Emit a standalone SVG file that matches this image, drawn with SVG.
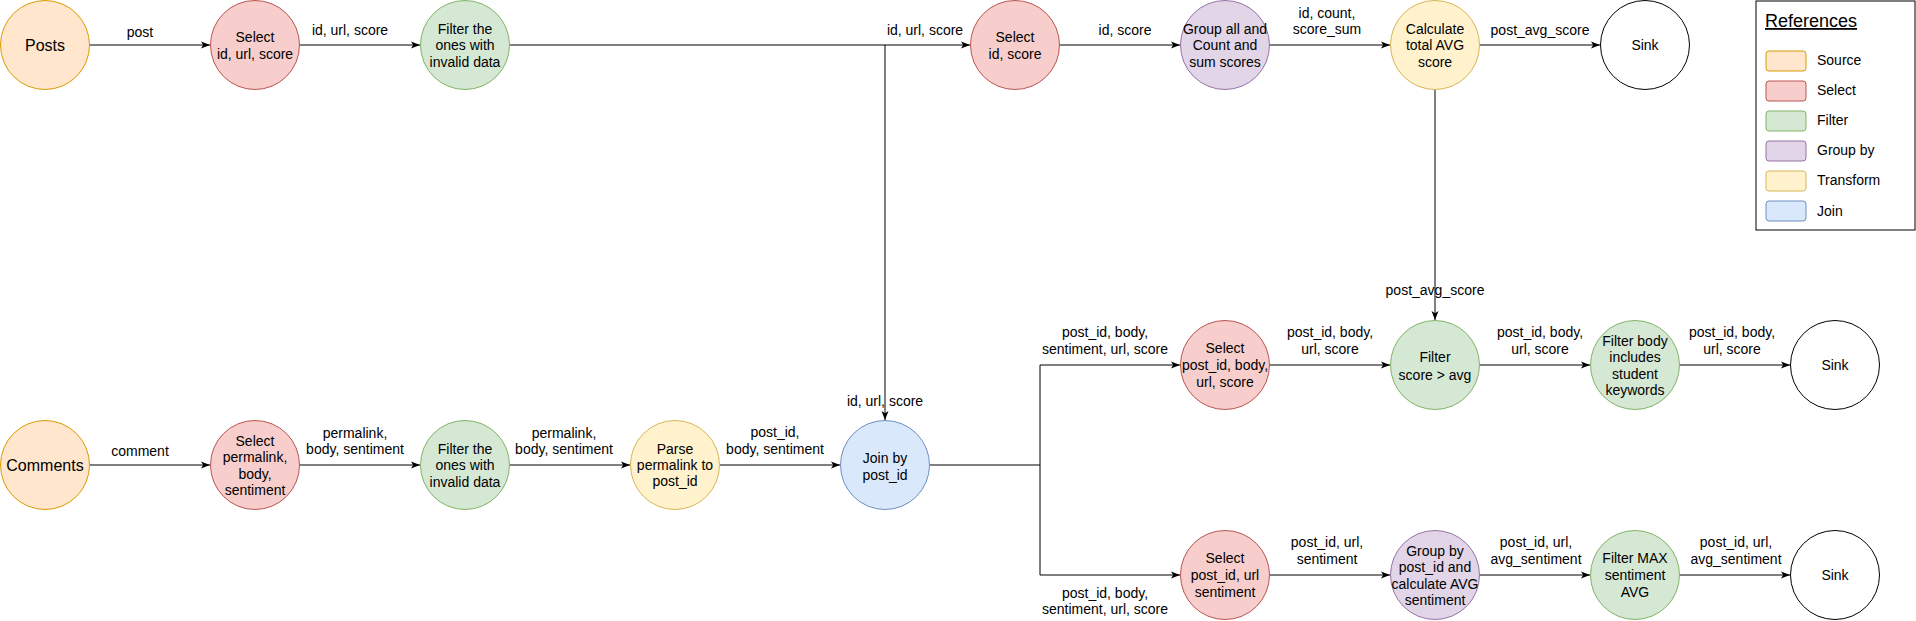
<svg xmlns="http://www.w3.org/2000/svg" width="1916" height="621" viewBox="0 0 1916 621">
<style>
text{font-family:"Liberation Sans",Arial,Helvetica,sans-serif;font-size:14px;fill:#000;text-anchor:middle}
.big{font-size:16px}
.src{fill:#ffe6cc;stroke:#d79b00}
.sel{fill:#f8cecc;stroke:#b85450}
.flt{fill:#d5e8d4;stroke:#82b366}
.grp{fill:#e1d5e7;stroke:#9673a6}
.trf{fill:#fff2cc;stroke:#d6b656}
.join{fill:#dae8fc;stroke:#6c8ebf}
.sink{fill:#fff;stroke:#000}
.e{fill:none;stroke:#000;stroke-width:1}
.a{marker-end:url(#arr)}
.lg{text-anchor:start}
</style>
<defs>
<marker id="arr" markerWidth="10" markerHeight="8" refX="9" refY="4" orient="auto" markerUnits="userSpaceOnUse">
<path d="M0,0.5 L9,4 L0,7.5 L2.2,4 Z" fill="#000"/>
</marker>
</defs>
<rect width="1916" height="621" fill="#fff"/>

<g id="connectors">
<path class="e a" d="M90,45 H210"/>
<path class="e a" d="M300,45 H420"/>
<path class="e a" d="M510,45 H970"/>
<path class="e a" d="M885,45 V420"/>
<path class="e a" d="M1060,45 H1180"/>
<path class="e a" d="M1270,45 H1390"/>
<path class="e a" d="M1480,45 H1600"/>
<path class="e a" d="M1435,90 V320"/>
<path class="e a" d="M90,465 H210"/>
<path class="e a" d="M300,465 H420"/>
<path class="e a" d="M510,465 H630"/>
<path class="e a" d="M720,465 H840"/>
<path class="e" d="M930,465 H1040"/>
<path class="e a" d="M1040,465 V365 H1180"/>
<path class="e a" d="M1040,465 V575 H1180"/>
<path class="e a" d="M1270,365 H1390"/>
<path class="e a" d="M1480,365 H1590"/>
<path class="e a" d="M1680,365 H1790"/>
<path class="e a" d="M1270,575 H1390"/>
<path class="e a" d="M1480,575 H1590"/>
<path class="e a" d="M1680,575 H1790"/>
</g>

<g id="edge-labels">
<text x="140" y="37">post</text>
<text x="350" y="35">id, url, score</text>
<text x="925" y="35">id, url, score</text>
<text x="1125" y="35">id, score</text>
<text x="1327" y="18">id, count,</text>
<text x="1327" y="34">score_sum</text>
<text x="1540" y="35">post_avg_score</text>
<text x="1435" y="295">post_avg_score</text>
<text x="885" y="406">id, url, score</text>
<text x="140" y="456">comment</text>
<text x="355" y="438">permalink,</text>
<text x="355" y="454">body, sentiment</text>
<text x="564" y="438">permalink,</text>
<text x="564" y="454">body, sentiment</text>
<text x="775" y="437">post_id,</text>
<text x="775" y="454">body, sentiment</text>
<text x="1105" y="337">post_id, body,</text>
<text x="1105" y="354">sentiment, url, score</text>
<text x="1330" y="337">post_id, body,</text>
<text x="1330" y="354">url, score</text>
<text x="1540" y="337">post_id, body,</text>
<text x="1540" y="354">url, score</text>
<text x="1732" y="337">post_id, body,</text>
<text x="1732" y="354">url, score</text>
<text x="1105" y="598">post_id, body,</text>
<text x="1105" y="614">sentiment, url, score</text>
<text x="1327" y="547">post_id, url,</text>
<text x="1327" y="564">sentiment</text>
<text x="1536" y="547">post_id, url,</text>
<text x="1536" y="564">avg_sentiment</text>
<text x="1736" y="547">post_id, url,</text>
<text x="1736" y="564">avg_sentiment</text>
</g>

<g id="posts"><circle class="src" cx="45" cy="45" r="44.5"/><text class="big" x="45" y="51">Posts</text></g>
<g id="select-posts"><circle class="sel" cx="255" cy="45" r="44.5"/><text x="255" y="42">Select</text><text x="255" y="59">id, url, score</text></g>
<g id="filter-posts"><circle class="flt" cx="465" cy="45" r="44.5"/><text x="465" y="34">Filter the</text><text x="465" y="50">ones with</text><text x="465" y="67">invalid data</text></g>
<g id="select-id-score"><circle class="sel" cx="1015" cy="45" r="44.5"/><text x="1015" y="42">Select</text><text x="1015" y="59">id, score</text></g>
<g id="group-all"><circle class="grp" cx="1225" cy="45" r="44.5"/><text x="1225" y="34">Group all and</text><text x="1225" y="50">Count and</text><text x="1225" y="67">sum scores</text></g>
<g id="calc-avg"><circle class="trf" cx="1435" cy="45" r="44.5"/><text x="1435" y="34">Calculate</text><text x="1435" y="50">total AVG</text><text x="1435" y="67">score</text></g>
<g id="sink-1"><circle class="sink" cx="1645" cy="45" r="44.5"/><text x="1645" y="50">Sink</text></g>

<g id="comments"><circle class="src" cx="45" cy="465" r="44.5"/><text class="big" x="45" y="471">Comments</text></g>
<g id="select-comments"><circle class="sel" cx="255" cy="465" r="44.5"/><text x="255" y="446">Select</text><text x="255" y="462">permalink,</text><text x="255" y="479">body,</text><text x="255" y="495">sentiment</text></g>
<g id="filter-comments"><circle class="flt" cx="465" cy="465" r="44.5"/><text x="465" y="454">Filter the</text><text x="465" y="470">ones with</text><text x="465" y="487">invalid data</text></g>
<g id="parse-permalink"><circle class="trf" cx="675" cy="465" r="44.5"/><text x="675" y="454">Parse</text><text x="675" y="470">permalink to</text><text x="675" y="486">post_id</text></g>
<g id="join"><circle class="join" cx="885" cy="465" r="44.5"/><text x="885" y="463">Join by</text><text x="885" y="480">post_id</text></g>

<g id="select-post-body"><circle class="sel" cx="1225" cy="365" r="44.5"/><text x="1225" y="353">Select</text><text x="1225" y="370">post_id, body,</text><text x="1225" y="387">url, score</text></g>
<g id="filter-score"><circle class="flt" cx="1435" cy="365" r="44.5"/><text x="1435" y="362">Filter</text><text x="1435" y="380">score &gt; avg</text></g>
<g id="filter-body"><circle class="flt" cx="1635" cy="365" r="44.5"/><text x="1635" y="346">Filter body</text><text x="1635" y="362">includes</text><text x="1635" y="379">student</text><text x="1635" y="395">keywords</text></g>
<g id="sink-2"><circle class="sink" cx="1835" cy="365" r="44.5"/><text x="1835" y="370">Sink</text></g>

<g id="select-post-url"><circle class="sel" cx="1225" cy="575" r="44.5"/><text x="1225" y="563">Select</text><text x="1225" y="580">post_id, url</text><text x="1225" y="597">sentiment</text></g>
<g id="group-post"><circle class="grp" cx="1435" cy="575" r="44.5"/><text x="1435" y="556">Group by</text><text x="1435" y="572">post_id and</text><text x="1435" y="589">calculate AVG</text><text x="1435" y="605">sentiment</text></g>
<g id="filter-max"><circle class="flt" cx="1635" cy="575" r="44.5"/><text x="1635" y="563">Filter MAX</text><text x="1635" y="580">sentiment</text><text x="1635" y="597">AVG</text></g>
<g id="sink-3"><circle class="sink" cx="1835" cy="575" r="44.5"/><text x="1835" y="580">Sink</text></g>

<g id="legend">
<rect x="1756" y="1" width="159" height="229" fill="#fff" stroke="#000"/>
<text class="lg" x="1765" y="27" style="font-size:18px;text-decoration:underline">References</text>
<rect class="src" x="1766" y="51" width="40" height="20" rx="3"/><text class="lg" x="1817" y="65">Source</text>
<rect class="sel" x="1766" y="81" width="40" height="20" rx="3"/><text class="lg" x="1817" y="95">Select</text>
<rect class="flt" x="1766" y="111" width="40" height="20" rx="3"/><text class="lg" x="1817" y="125">Filter</text>
<rect class="grp" x="1766" y="141" width="40" height="20" rx="3"/><text class="lg" x="1817" y="155">Group by</text>
<rect class="trf" x="1766" y="171" width="40" height="20" rx="3"/><text class="lg" x="1817" y="185">Transform</text>
<rect class="join" x="1766" y="201" width="40" height="20" rx="3"/><text class="lg" x="1817" y="216">Join</text>
</g>
</svg>
